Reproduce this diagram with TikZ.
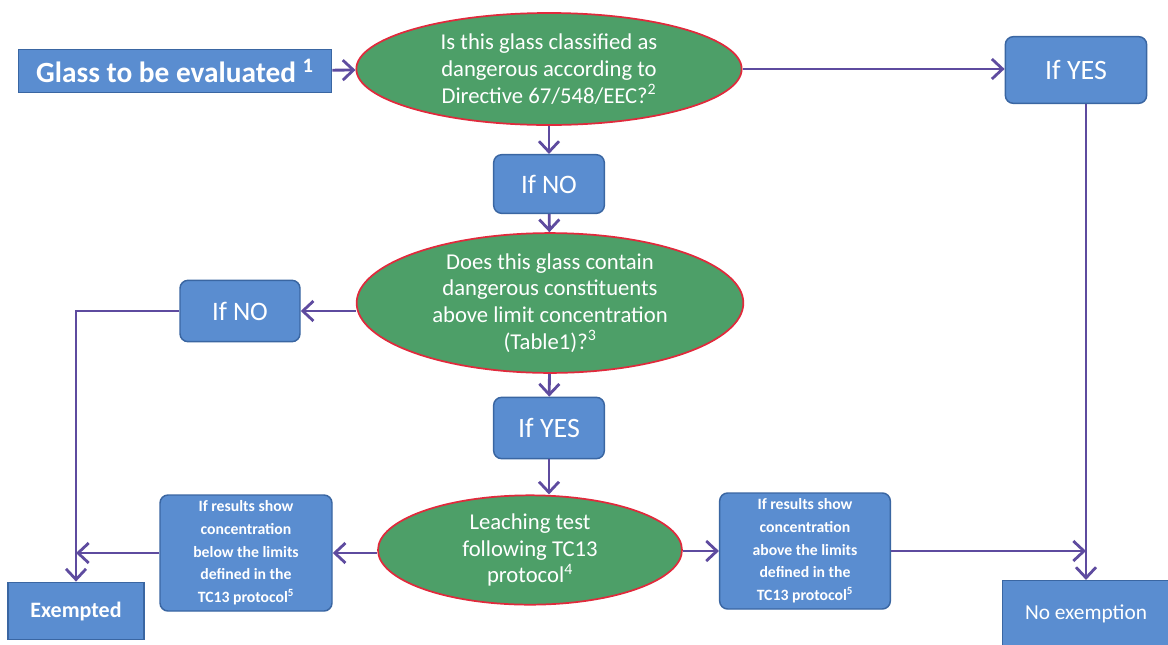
\documentclass[tikz,border=0pt]{standalone}
\usepackage{fontspec}
\setmainfont{Carlito}
\usepackage{xcolor}
\usetikzlibrary{shapes,arrows.meta,positioning,calc}

\definecolor{boxblue}{HTML}{5A8DD0}
\definecolor{boxedge}{HTML}{3A66A2}
\definecolor{askgreen}{HTML}{4D9F68}
\definecolor{askedge}{HTML}{E02A3C}
\definecolor{flowline}{HTML}{5E4B9F}

\begin{document}
\begin{tikzpicture}[x=0.75pt, y=-0.75pt,
    blockbox/.style={draw=boxedge, fill=boxblue, line width=1.1pt, text=white, inner sep=0pt, align=center},
    roundbox/.style={blockbox, rounded corners=6pt},
    question/.style={draw=askedge, fill=askgreen, ellipse, line width=1.3pt, text=white, inner sep=0pt, align=center, font=\fontsize{17}{20}\selectfont},
    flow/.style={draw=flowline, line width=2.1pt, -{Straight Barb[length=8pt, width=15pt, line width=2.1pt]}}]
    \useasboundingbox (0,0) rectangle (1168,644);

    \node (glass) [blockbox, minimum width=235pt, minimum height=32pt, font=\fontsize{22}{24}\selectfont\bfseries] at (175,71) {Glass to be evaluated \textsuperscript{1}};
    \node (q1) [question, minimum width=289pt, minimum height=84pt] at (549,69) {Is this glass classified as\\dangerous according to\\Directive 67/548/EEC?\textsuperscript{2}};
    \node (yes1) [roundbox, minimum width=106pt, minimum height=50pt, font=\fontsize{21}{24}\selectfont] at (1076,70) {If YES};
    \node (no1) [roundbox, minimum width=83pt, minimum height=44pt, font=\fontsize{20}{24}\selectfont] at (549,184) {If NO};
    \node (q2) [question, minimum width=290pt, minimum height=100pt] at (550,303) {Does this glass contain\\dangerous constituents\\above limit concentration\\(Table1)?\textsuperscript{3}};
    \node (no2) [roundbox, minimum width=90pt, minimum height=46pt, font=\fontsize{20}{24}\selectfont] at (240,311) {If NO};
    \node (yes2) [roundbox, minimum width=83pt, minimum height=46pt, font=\fontsize{21}{24}\selectfont] at (549,428) {If YES};
    \node (q3) [question, minimum width=228pt, minimum height=82pt] at (530,550) {Leaching test\\following TC13\\protocol\textsuperscript{4}};
    \node (below) [roundbox, minimum width=129pt, minimum height=87pt, font=\fontsize{11.8}{17}\selectfont\bfseries] at (246,553) {If results show\\concentration\\below the limits\\defined in the\\TC13 protocol\textsuperscript{5}};
    \node (above) [roundbox, minimum width=128pt, minimum height=87pt, font=\fontsize{11.8}{17}\selectfont\bfseries] at (805,551) {If results show\\concentration\\above the limits\\defined in the\\TC13 protocol\textsuperscript{5}};
    \node (exempted) [blockbox, minimum width=102pt, minimum height=43pt, font=\fontsize{16.5}{20}\selectfont\bfseries] at (76,611) {Exempted};
    \node (noexempt) [blockbox, minimum width=125pt, minimum height=50pt, font=\fontsize{16}{20}\selectfont] at (1086,614) {No exemption};

    \coordinate (joinL) at (exempted |- below);
    \coordinate (joinR) at (noexempt |- above);

    \draw [flow] (glass) -- (q1);
    \draw [flow] (q1.east) -- (q1.east -| yes1.west);
    \draw [flow] (yes1.south -| noexempt) -- (noexempt.north);
    \draw [flow] (q1) -- (no1);
    \draw [flow] (no1) -- (q2);
    \draw [flow] (q2.west |- no2) -- (no2.east);
    \draw [flow] (no2.west) -| (exempted.north);
    \draw [flow] (q2) -- (yes2);
    \draw [flow] (yes2.south) -- (yes2.south |- q3.north);
    \draw [flow] (q3.west |- below) -- (below.east);
    \draw [flow] (below.west) -- (joinL);
    \draw [flow] (q3.east |- above) -- (above.west);
    \draw [flow] (above.east) -- (joinR);
\end{tikzpicture}
\end{document}
